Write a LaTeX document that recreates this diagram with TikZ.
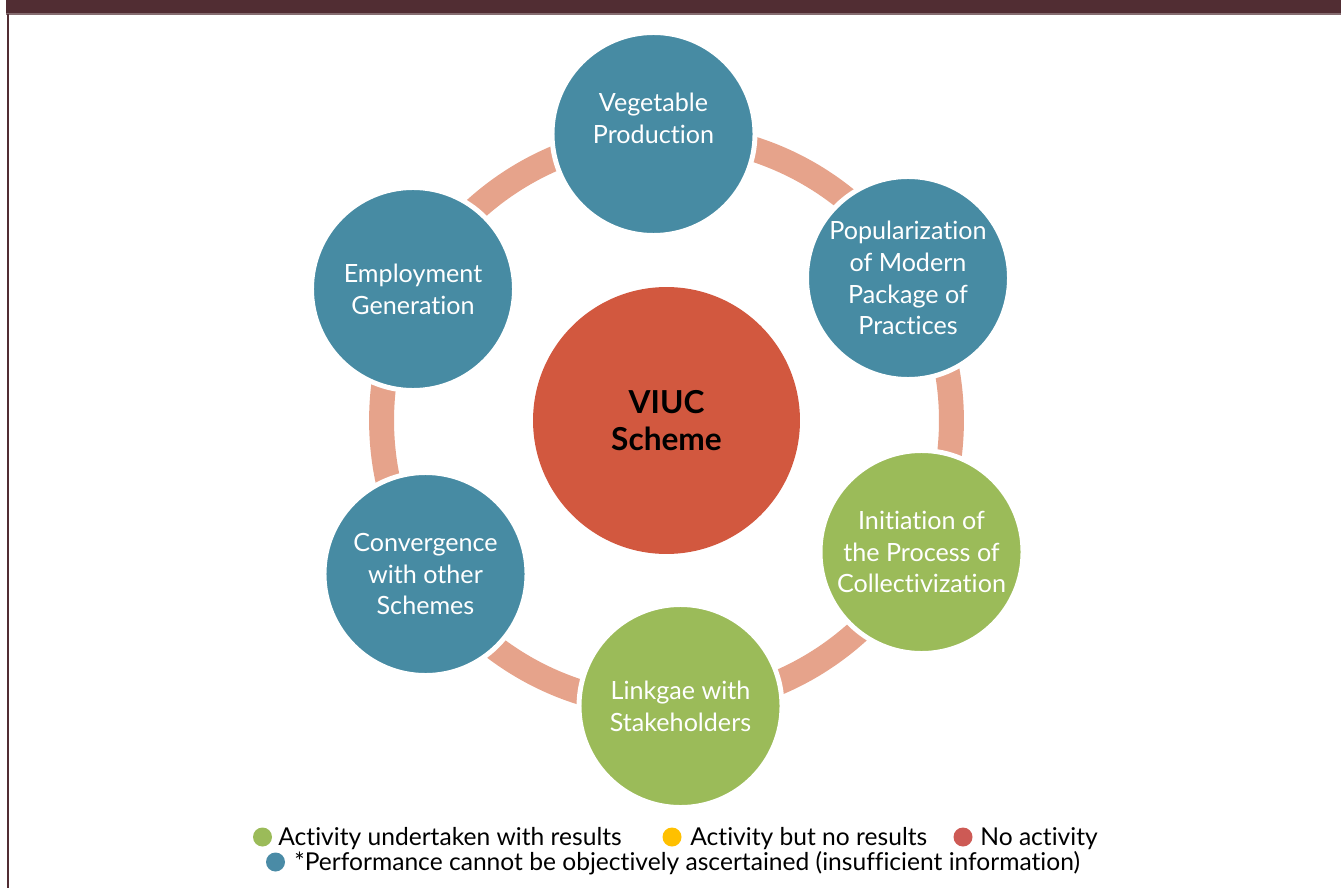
\documentclass[tikz,border=0pt]{standalone}
\usepackage{fontspec}
\setmainfont{Lato}[Ligatures=NoCommon]
\usetikzlibrary{calc}

\definecolor{framecol}{HTML}{512D33}
\definecolor{ringcol}{HTML}{E6A38B}
\definecolor{tealcol}{HTML}{478BA3}
\definecolor{greencol}{HTML}{9BBB59}
\definecolor{hubcol}{HTML}{D2583F}
\definecolor{keyyellow}{HTML}{FFC000}
\definecolor{keyred}{HTML}{CD5A55}
\definecolor{keyteal}{HTML}{4A8BA6}

\begin{document}
\begin{tikzpicture}[x=0.02cm, y=-0.02cm,
  stage/.style={circle, draw=white, line width=2.8pt, minimum size=4.06cm, inner sep=0pt,
                text=white, align=center, font=\fontsize{14.3}{18.1}\selectfont},
  hub/.style={circle, fill=hubcol, minimum size=5.34cm, inner sep=0pt, align=center,
              font=\fontsize{18}{21.5}\selectfont\bfseries},
  ring/.style={draw=ringcol, line width=14.2pt},
  dot/.style={circle, inner sep=0pt, minimum size=0.38cm},
  keytext/.style={anchor=base west, inner sep=0pt, font=\fontsize{14}{14}\selectfont}]

\useasboundingbox (0,0) rectangle (1341,888);

% frame
\fill[framecol] (6,0) rectangle (1341,14);
\draw[framecol!70!white, line width=0.6pt] (6,14) -- (1341,14);
\draw[framecol, line width=1.1pt] (8,14) -- (8,888);

% cycle
\coordinate (hubc) at (666.5,420.5);
\draw[ring] (hubc) circle (5.7cm);

\node[hub] (viuc) at (hubc) {VIUC\\Scheme};

\node[stage, fill=tealcol]  (veg)  at (653.5,134) {Vegetable\\Production\\~};
\node[stage, fill=tealcol]  (pop)  at (908,278)   {Popularization\\of Modern\\Package of\\Practices};
\node[stage, fill=greencol] (init) at (921.5,552) {Initiation of\\the Process of\\Collectivization};
\node[stage, fill=greencol] (link) at (680.5,706) {Linkgae with\\Stakeholders};
\node[stage, fill=tealcol]  (conv) at (425.5,574) {Convergence\\with other\\Schemes};
\node[stage, fill=tealcol]  (emp)  at (413,289)   {Employment\\Generation};

% key
\node[dot, fill=greencol]  (kgreen)  at (262.5,837) {};
\node[keytext] (kgreentxt)  at (278,845) {Activity undertaken with results};
\node[dot, fill=keyyellow] (kyellow) at (672,837) {};
\node[keytext] (kyellowtxt) at (690,845) {Activity but no results};
\node[dot, fill=keyred]    (kred)    at (963,837) {};
\node[keytext] (kredtxt)    at (980,845) {No activity};
\node[dot, fill=keyteal]   (kteal)   at (275.5,862) {};
\node[keytext] (ktealtxt)   at (294,870) {*Performance cannot be objectively ascertained (insufficient information)};

\end{tikzpicture}
\end{document}
